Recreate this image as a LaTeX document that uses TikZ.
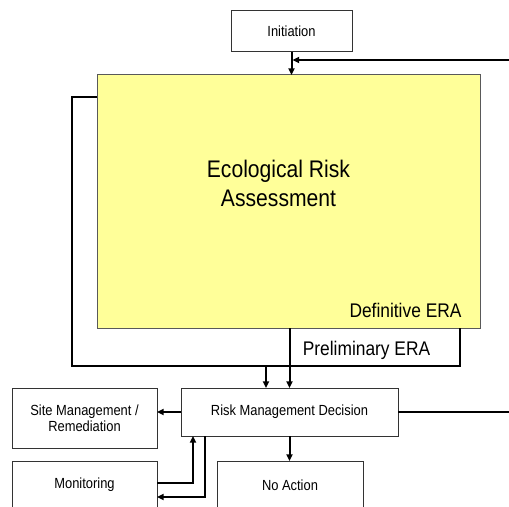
\documentclass[tikz,border=0pt]{standalone}
\usepackage{fontspec}
\setmainfont{Liberation Sans}[FakeStretch=0.88]
\usetikzlibrary{arrows.meta,calc}
\definecolor{erayellow}{HTML}{FFFF99}
\begin{document}
\begin{tikzpicture}[x=0.75pt,y=-0.75pt,
  box/.style={draw=black!80,line width=0.75pt,fill=white,inner sep=0pt,outer sep=0pt,align=center,font=\fontsize{11}{12}\selectfont},
  conn/.style={line width=1.5pt,black},
  arr/.style={conn,-{Triangle[length=5pt,width=4.5pt]}},
  big/.style={font=\fontsize{18}{21.75}\selectfont,align=center,inner sep=0pt},
  mid/.style={font=\fontsize{14.8}{16}\selectfont,inner sep=0pt}]
\useasboundingbox (0,0) rectangle (509,506);
\clip (0,0) rectangle (509,506);
% boxes
\node[box,minimum width=121*0.75pt,minimum height=41*0.75pt,text height=8pt,text depth=0pt] (init) at (291.5,31.5) {Initiation};
\node[draw=black!65,line width=0.75pt,fill=erayellow,inner sep=0pt,outer sep=0pt,minimum width=383*0.75pt,minimum height=253*0.75pt] (era) at (288.5,201.5) {};
\node[big] (eratext) at (278.5,183) {Ecological Risk\\Assessment};
\node[mid,anchor=base] (defera) at (405.5,317) {Definitive ERA};
\node[mid,anchor=base] (prelera) at (366.5,355) {Preliminary ERA};
\node[box,minimum width=217*0.75pt,minimum height=48*0.75pt] (rmd) at (289.5,412) {Risk Management Decision};
\node[box,minimum width=145*0.75pt,minimum height=60*0.75pt] (sm) at (84.5,418) {Site Management /\\Remediation};
\node[box,minimum width=145*0.75pt,minimum height=48*0.75pt] (mon) at (84.5,485) {Monitoring};
\node[box,minimum width=146*0.75pt,minimum height=48*0.75pt] (na) at (290,485) {No Action};
% coordinates
\coordinate (rin) at (509,60);
\coordinate (rout) at (509,412);
\coordinate (fbR) at (460,366);
\coordinate (j1) at (266,366);
% connectors
\draw[arr] (init.south) -- (init.south |- era.north);
\draw[arr] (rin) -- ($(init.south |- rin)+(1,0)$);
\draw[conn] ($(era.north west)+(0,22)$) -- ++(-25,0) |- (fbR) -- (fbR |- era.south);
\draw[arr] (j1) -- (j1 |- rmd.north);
\draw[arr] (rmd.north |- era.south) -- (rmd.north);
\draw[conn] (rmd.east) -- (rout);
\draw[arr] (rmd.west) -- (rmd.west -| sm.east);
\draw[arr] (rmd.south) -- (rmd.south |- na.north);
\draw[arr] ($(mon.east)+(0,-2)$) -| ($(rmd.south west)+(12,0)$);
\draw[arr] ($(rmd.south west)+(24,0)$) |- ($(mon.east)+(0,12)$);
\end{tikzpicture}
\end{document}
